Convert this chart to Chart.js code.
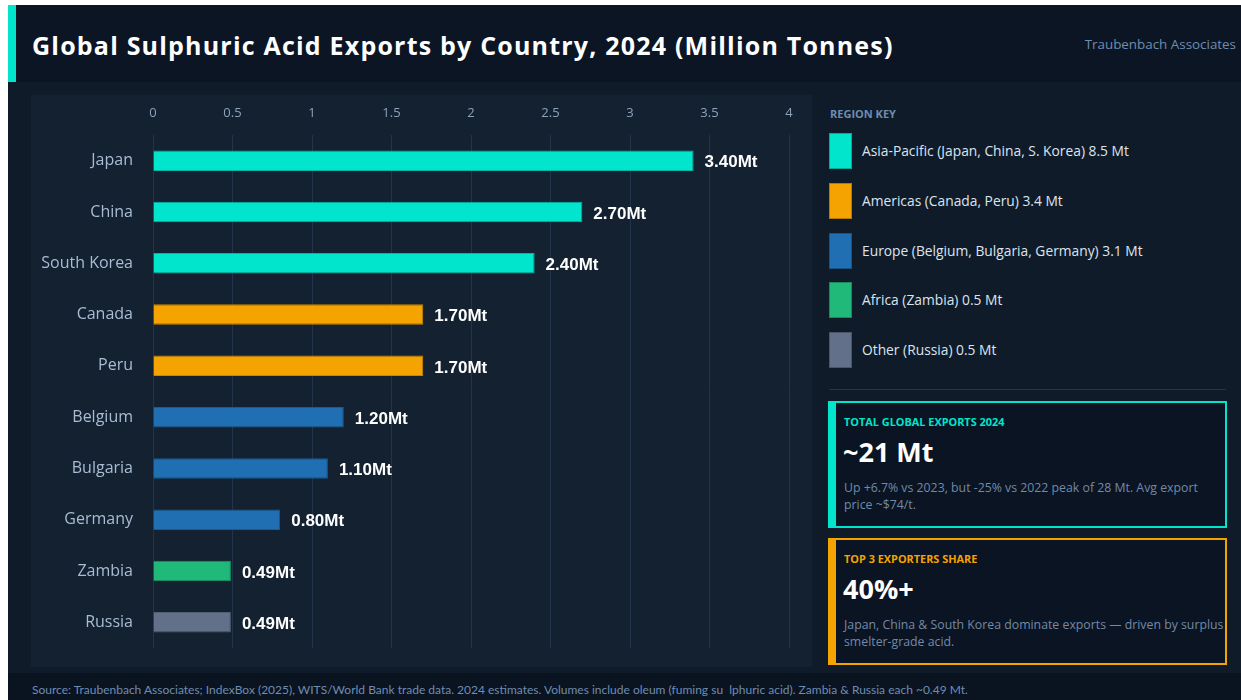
<!DOCTYPE html>
<html>
<head>
<meta charset="utf-8">
<script src="https://cdn.jsdelivr.net/npm/chart.js@4/dist/chart.umd.min.js"></script>
<style>
  html, body { margin: 0; padding: 0; background: #ffffff; }
  body { width: 1241px; height: 700px; overflow: hidden; position: relative; font-family: "Open Sans", Lato, sans-serif; }
  #wrap { position: absolute; left: 8px; top: 5px; width: 1233px; height: 695px; background: #101b2a; overflow: hidden; }
  #header { position: absolute; left: 0; top: 0; width: 1233px; height: 77px; background: #0b1524; }
  #accent { position: absolute; left: 0; top: 0; width: 8px; height: 77px; background: #00e5cc; }
  #title { position: absolute; left: 24px; top: 24px; color: #ffffff; font-weight: 700; font-size: 25px; letter-spacing: 1.2px; white-space: nowrap; line-height: 32px; }
  #brand { position: absolute; right: 5px; top: 30px; color: #6f8db0; font-size: 13.4px; white-space: nowrap; }
  #panel { position: absolute; left: 23px; top: 90px; width: 781px; height: 572px; background: #132131; }
  #panel canvas { display: block; }
  #regionKey { position: absolute; left: 822px; top: 101px; color: #6d8cb0; font-weight: 700; font-size: 11px; }
  .lg { position: absolute; left: 821px; height: 36px; width: 400px; }
  .sw { position: absolute; left: 0; top: 0; width: 23px; height: 36px; box-sizing: border-box; border: 1px solid rgba(0,0,0,0.25); }
  .lt { position: absolute; left: 33px; top: 8px; color: #dce4ee; font-size: 13.8px; white-space: nowrap; }
  #divider { position: absolute; left: 821px; top: 384px; width: 397px; height: 1px; background: #243449; }
  .card { position: absolute; left: 820px; width: 399px; height: 127px; box-sizing: border-box; background: #0a1422; border-style: solid; border-width: 2px 2px 2px 8px; }
  .card .ct { position: absolute; left: 8px; top: 11px; font-weight: 700; font-size: 10.9px; white-space: nowrap; }
  .card .cv { position: absolute; left: 7px; top: 30px; color: #ffffff; font-weight: 700; font-size: 27px; white-space: nowrap; }
  .card .cd { position: absolute; left: 8px; top: 76px; width: 380px; color: #7489a6; font-size: 12.3px; line-height: 17px; }
  #footer { position: absolute; left: 0; top: 668px; width: 1233px; height: 27px; background: #0a1320; }
  #source { position: absolute; left: 24px; top: 9px; color: #6f8db0; font-family: Lato, sans-serif; font-size: 12px; white-space: nowrap; }
</style>
</head>
<body>
<div id="wrap">
  <div id="header">
    <div id="accent"></div>
    <div id="title">Global Sulphuric Acid Exports by Country, 2024 (Million Tonnes)</div>
    <div id="brand">Traubenbach Associates</div>
  </div>
  <div id="panel"><canvas id="chart" width="781" height="572"></canvas></div>
  <div id="regionKey">REGION KEY</div>
  <div id="legend"></div>
  <div id="divider"></div>
  <div class="card" id="card1" style="top:396px;border-color:#00e5cc;">
    <div class="ct" style="color:#00e5cc;">TOTAL GLOBAL EXPORTS 2024</div>
    <div class="cv">~21 Mt</div>
    <div class="cd">Up +6.7% vs 2023, but -25% vs 2022 peak of 28 Mt. Avg export price ~$74/t.</div>
  </div>
  <div class="card" id="card2" style="top:533px;border-color:#f5a300;">
    <div class="ct" style="color:#f5a300;">TOP 3 EXPORTERS SHARE</div>
    <div class="cv">40%+</div>
    <div class="cd">Japan, China &amp; South Korea dominate exports — driven by surplus smelter-grade acid.</div>
  </div>
  <div id="footer">
    <div id="source">Source: Traubenbach Associates; IndexBox (2025), WITS/World Bank trade data. 2024 estimates. Volumes include oleum (fuming su&nbsp;&nbsp;lphuric acid). Zambia &amp; Russia each ~0.49 Mt.</div>
  </div>
</div>
<script>
// ---- Data ----
const countries = ["Japan", "China", "South Korea", "Canada", "Peru", "Belgium", "Bulgaria", "Germany", "Zambia", "Russia"];
const exportsMt = [3.40, 2.70, 2.40, 1.70, 1.70, 1.20, 1.10, 0.80, 0.49, 0.49];
const countryRegion = ["asia", "asia", "asia", "americas", "americas", "europe", "europe", "europe", "africa", "other"];
const regionKeys = ["asia", "americas", "europe", "africa", "other"];
const regionLabels = [
  "Asia-Pacific (Japan, China, S. Korea) 8.5 Mt",
  "Americas (Canada, Peru) 3.4 Mt",
  "Europe (Belgium, Bulgaria, Germany) 3.1 Mt",
  "Africa (Zambia) 0.5 Mt",
  "Other (Russia) 0.5 Mt"
];
const regionColors = ["#00e5cc", "#f5a300", "#1f6fb2", "#20b97a", "#627189"];
const regionBorders = ["#00b8a5", "#c98600", "#195c94", "#1a9866", "#515e73"];
const xTicks = [0, 0.5, 1, 1.5, 2, 2.5, 3, 3.5, 4];

// ---- Legend ----
const legendEl = document.getElementById("legend");
const legendTops = [128, 178, 228, 277, 327];
regionLabels.forEach((lab, i) => {
  const d = document.createElement("div");
  d.className = "lg";
  d.style.top = legendTops[i] + "px";
  d.innerHTML = '<div class="sw" style="background:' + regionColors[i] + '"></div><div class="lt">' + lab + '</div>';
  legendEl.appendChild(d);
});

// ---- Chart ----
const colorFor = r => regionColors[regionKeys.indexOf(r)];
const borderFor = r => regionBorders[regionKeys.indexOf(r)];

const valueLabels = {
  id: "valueLabels",
  afterDatasetsDraw(chart) {
    const ctx = chart.ctx;
    const meta = chart.getDatasetMeta(0);
    ctx.save();
    ctx.font = "bold 17px 'Liberation Sans', Arial, sans-serif";
    ctx.fillStyle = "#ffffff";
    ctx.textAlign = "left";
    ctx.textBaseline = "middle";
    meta.data.forEach((bar, i) => {
      ctx.fillText(exportsMt[i].toFixed(2) + "Mt", bar.x + 11, bar.y + 2);
    });
    ctx.restore();
  }
};

new Chart(document.getElementById("chart"), {
  type: "bar",
  data: {
    labels: countries,
    datasets: [{
      data: exportsMt,
      backgroundColor: countryRegion.map(colorFor),
      borderColor: countryRegion.map(borderFor),
      borderWidth: 1,
      borderSkipped: "left",
      barPercentage: 0.4,
      categoryPercentage: 1.0
    }]
  },
  options: {
    indexAxis: "y",
    responsive: false,
    animation: false,
    devicePixelRatio: 1,
    layout: { padding: { top: 0, right: 23, bottom: 19, left: 0 } },
    plugins: { legend: { display: false }, tooltip: { enabled: false } },
    scales: {
      x: {
        position: "top",
        min: 0, max: 4,
        afterBuildTicks(scale) { scale.ticks = xTicks.map(v => ({ value: v })); },
        afterFit(scale) { scale.height = 40; },
        grid: { color: "#22344c", lineWidth: 1, drawTicks: false },
        border: { display: false },
        ticks: {
          color: "#8da2bb",
          font: { family: "'Open Sans', Lato, sans-serif", size: 13 },
          padding: 14,
          callback: v => String(v)
        }
      },
      y: {
        afterFit(scale) { scale.width = 122; },
        grid: { display: false, drawTicks: true, tickLength: 12 },
        border: { display: false },
        ticks: {
          color: "#a9bcd3",
          font: { family: "'Open Sans', Lato, sans-serif", size: 16 },
          padding: 8
        }
      }
    }
  },
  plugins: [valueLabels]
});
</script>
</body>
</html>
